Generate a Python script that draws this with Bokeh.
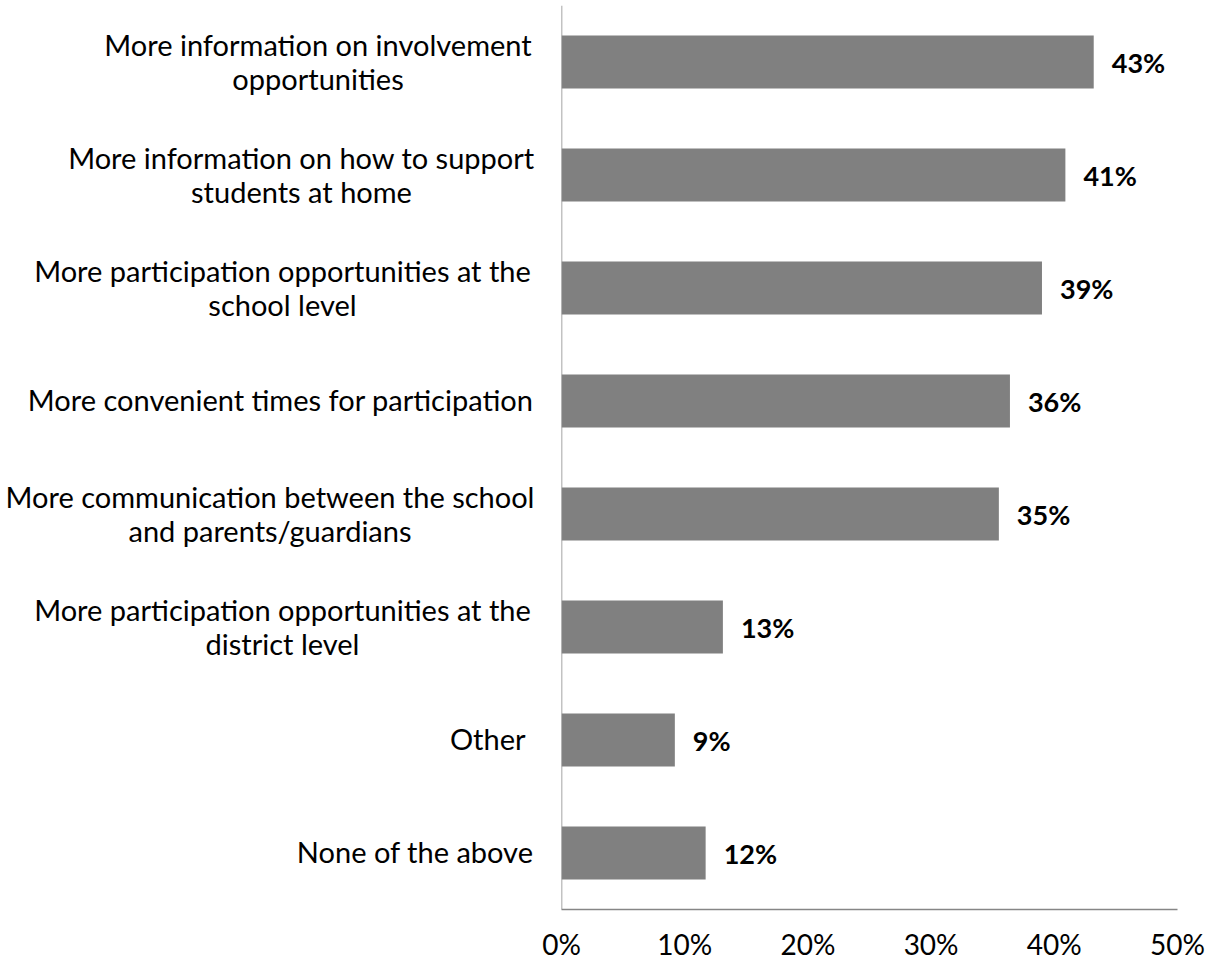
from bokeh.plotting import figure
from bokeh.layouts import row
from bokeh.models import (ColumnDataSource, FactorRange, Range1d, LabelSet, Span,
                          FixedTicker, NumeralTickFormatter)
from bokeh.core.properties import value
from bokeh.embed import file_html
from bokeh.resources import INLINE

# ---- data ----
categories = [
    "More information on involvement opportunities",
    "More information on how to support students at home",
    "More participation opportunities at the school level",
    "More convenient times for participation",
    "More communication between the school and parents/guardians",
    "More participation opportunities at the district level",
    "Other",
    "None of the above",
]
percent_values = [43.2, 40.9, 39.0, 36.4, 35.5, 13.1, 9.2, 11.7]
value_labels = ["43%", "41%", "39%", "36%", "35%", "13%", "9%", "12%"]
label_lines = [
    ["More information on involvement", "opportunities"],
    ["More information on how to support", "students at home"],
    ["More participation opportunities at the", "school level"],
    ["More convenient times for participation"],
    ["More communication between the school", "and parents/guardians"],
    ["More participation opportunities at the", "district level"],
    ["Other"],
    ["None of the above"],
]
x_ticks = [0, 10, 20, 30, 40, 50]

# ---- layout constants (px) ----
LABEL_W = 536          # width of the category-label panel
MAIN_LEFT = 25         # main figure's left border (room for the "0%" tick label)
HEIGHT = 963
TOP, BOTTOM = 5, 52
label_anchor_x = [317.5, 301, 282, 533, 269.5, 282, 525, 533]
label_align = ["center", "center", "center", "right", "center", "center", "right", "right"]

FONT = "Lato"
BAR = "#808080"
AXIS = "#868686"

bar_src = ColumnDataSource(dict(
    cat=categories,
    val=[v / 100 for v in percent_values],
    lab=value_labels,
))

xs, ys, txt, offs, aligns = [], [], [], [], []
for i, lines in enumerate(label_lines):
    n = len(lines)
    for j, line in enumerate(lines):
        xs.append(label_anchor_x[i])
        ys.append(categories[i])
        txt.append(line)
        aligns.append(label_align[i])
        if n == 1:
            offs.append(-10)
        else:
            offs.append(6.5 if j == 0 else -28.0)
cat_src = ColumnDataSource(dict(x=xs, y=ys, t=txt, off=offs, al=aligns))

y_range = FactorRange(*reversed(categories), range_padding=0)

# ---- left panel: category labels ----
left = figure(
    width=LABEL_W, height=HEIGHT,
    x_range=Range1d(0, LABEL_W), y_range=y_range,
    x_axis_location=None, y_axis_location=None,
    output_backend="svg", toolbar_location=None,
    min_border_left=0, min_border_right=0,
    min_border_top=TOP, min_border_bottom=BOTTOM,
)
left.outline_line_color = None
left.xgrid.grid_line_color = None
left.ygrid.grid_line_color = None
left.add_layout(LabelSet(x="x", y="y", text="t", source=cat_src,
                         y_offset="off", text_align="al", text_baseline="alphabetic",
                         text_font=value(FONT), text_font_size="29px",
                         text_color="black"))

# ---- main chart ----
p = figure(
    width=1213 - LABEL_W, height=HEIGHT,
    x_range=Range1d(0, 0.5), y_range=y_range,
    y_axis_location=None,
    output_backend="svg", toolbar_location=None,
    min_border_left=MAIN_LEFT, min_border_right=36,
    min_border_top=TOP, min_border_bottom=BOTTOM,
)
p.outline_line_color = None
p.xgrid.grid_line_color = None
p.ygrid.grid_line_color = None

p.hbar(y="cat", left=0, right="val", height=0.47, source=bar_src,
       fill_color=BAR, line_color=None)

# vertical category axis line
p.add_layout(Span(location=0, dimension="height", line_color=AXIS, line_width=1.5))

p.add_layout(LabelSet(x="val", y="cat", text="lab", source=bar_src,
                      x_offset=18, text_baseline="middle",
                      text_font=value(FONT), text_font_style="bold",
                      text_font_size="27px", text_color="black"))

xa = p.xaxis[0]
xa.ticker = FixedTicker(ticks=[t / 100 for t in x_ticks])
xa.formatter = NumeralTickFormatter(format="0%")
xa.major_tick_line_color = None
xa.minor_tick_line_color = None
xa.major_tick_out = 0
xa.minor_tick_out = 0
xa.axis_line_color = AXIS
xa.axis_line_width = 1.5
xa.major_label_text_font = FONT
xa.major_label_text_font_size = "28px"
xa.major_label_text_color = "black"
xa.major_label_standoff = 17

layout = row(left, p, spacing=0)
open("out.html", "w").write(file_html(layout, INLINE))
